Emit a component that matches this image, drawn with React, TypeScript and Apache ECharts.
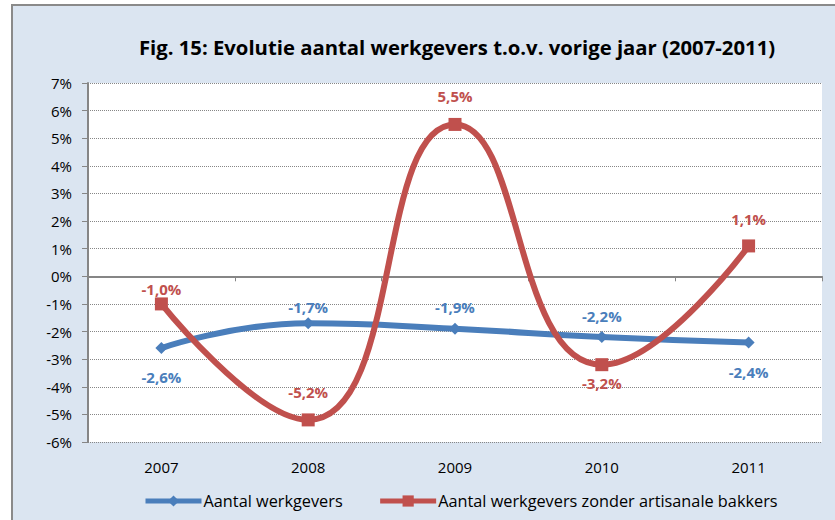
import React, { useEffect, useRef } from "react";
import * as echarts from "echarts";

const categories = ["2007", "2008", "2009", "2010", "2011"];
const werkgevers = [-2.6, -1.7, -1.9, -2.2, -2.4];
const zonderBakkers = [-1.0, -5.2, 5.5, -3.2, 1.1];
const blueLabelPos = ["bottom", "top", "top", "top", "bottom"];
const redLabelPos = ["top", "top", "top", "bottom", "top"];
const blueLabelGap = [15, 3, 8, 8, 16];
const redLabelGap = [1, 14, 14, 4, 13];

const FONT = "Open Sans";
const fmt = (v: number) => v.toFixed(1).replace(".", ",") + "%";

export default function App() {
  const ref = useRef<HTMLDivElement>(null);
  useEffect(() => {
    document.body.style.margin = "0";
    const chart = echarts.init(ref.current!, null, { renderer: "svg" });
    const blueData = werkgevers.map((v, i) => ({
      value: v,
      label: { position: blueLabelPos[i], distance: blueLabelGap[i] },
    }));
    const redData = zonderBakkers.map((v, i) => ({
      value: v,
      label: { position: redLabelPos[i], distance: redLabelGap[i] },
    }));
    chart.setOption({
      animation: false,
      backgroundColor: "#ffffff",
      textStyle: { fontFamily: FONT },
      graphic: [
        {
          type: "rect",
          z: -10,
          shape: { x: 12, y: 5, width: 840, height: 530 },
          style: { fill: "#dbe5f1", stroke: "#8a8a8a", lineWidth: 2 },
        },
      ],
      title: {
        text: "Fig. 15: Evolutie aantal werkgevers t.o.v. vorige jaar (2007-2011)",
        left: 452,
        textAlign: "center",
        top: 32,
        textStyle: { fontFamily: FONT, fontWeight: "bold", fontSize: 20.3, color: "#000" },
      },
      legend: {
        top: 493,
        left: 143,
        padding: 0,
        itemWidth: 56,
        itemHeight: 14,
        itemGap: 35,
        textStyle: { fontFamily: FONT, fontSize: 16.3, color: "#000", padding: [0, 0, 0, -3] },
        data: [
          { name: "Aantal werkgevers", lineStyle: { width: 5 } },
          { name: "Aantal werkgevers zonder artisanale bakkers", lineStyle: { width: 5 } },
        ],
      },
      grid: {
        left: 88,
        right: 13,
        top: 83,
        bottom: 78,
        show: true,
        backgroundColor: "#ffffff",
        borderWidth: 0,
      },
      xAxis: [
        {
          type: "category",
          data: categories,
          boundaryGap: true,
          position: "bottom",
          axisLine: { show: false, onZero: false },
          axisTick: { show: false },
          axisLabel: { fontFamily: FONT, fontSize: 15, color: "#000", margin: 17 },
        },
        {
          type: "category",
          data: categories,
          boundaryGap: true,
          position: "bottom",
          axisLine: { show: true, onZero: true, lineStyle: { color: "#868686", width: 2 } },
          axisTick: { show: true, length: 5, lineStyle: { color: "#868686", width: 1 } },
          axisLabel: { show: false },
        },
      ],
      yAxis: {
        type: "value",
        min: -6,
        max: 7,
        interval: 1,
        axisLine: { show: true, lineStyle: { color: "#868686", width: 2 } },
        axisTick: { show: true, length: 6, lineStyle: { color: "#868686", width: 1 } },
        axisLabel: {
          formatter: "{value}%",
          fontFamily: FONT,
          fontSize: 15,
          color: "#000",
          margin: 16,
        },
        splitLine: { show: true, lineStyle: { color: "#868686", type: "dotted", width: 1 } },
      },
      series: [
        {
          name: "Aantal werkgevers",
          type: "line",
          smooth: 0.5,
          data: blueData,
          symbol: "diamond",
          symbolSize: 12,
          lineStyle: { color: "#4a7ebb", width: 6 },
          itemStyle: { color: "#4a7ebb" },
          label: {
            show: true,
            formatter: (p: any) => fmt(p.value),
            fontFamily: FONT,
            fontSize: 15,
            fontWeight: "bold",
            color: "#4a7ebb",
          },
          z: 3,
        },
        {
          name: "Aantal werkgevers zonder artisanale bakkers",
          type: "line",
          smooth: 0.5,
          data: redData,
          symbol: "rect",
          symbolSize: 13,
          lineStyle: { color: "#c0504d", width: 6 },
          itemStyle: { color: "#c0504d" },
          label: {
            show: true,
            formatter: (p: any) => fmt(p.value),
            fontFamily: FONT,
            fontSize: 15,
            fontWeight: "bold",
            color: "#c0504d",
          },
          z: 4,
        },
      ],
    });
    return () => chart.dispose();
  }, []);
  return (
    <div
      ref={ref}
      style={{ position: "absolute", left: 0, top: 0, width: 835, height: 520 }}
    />
  );
}
